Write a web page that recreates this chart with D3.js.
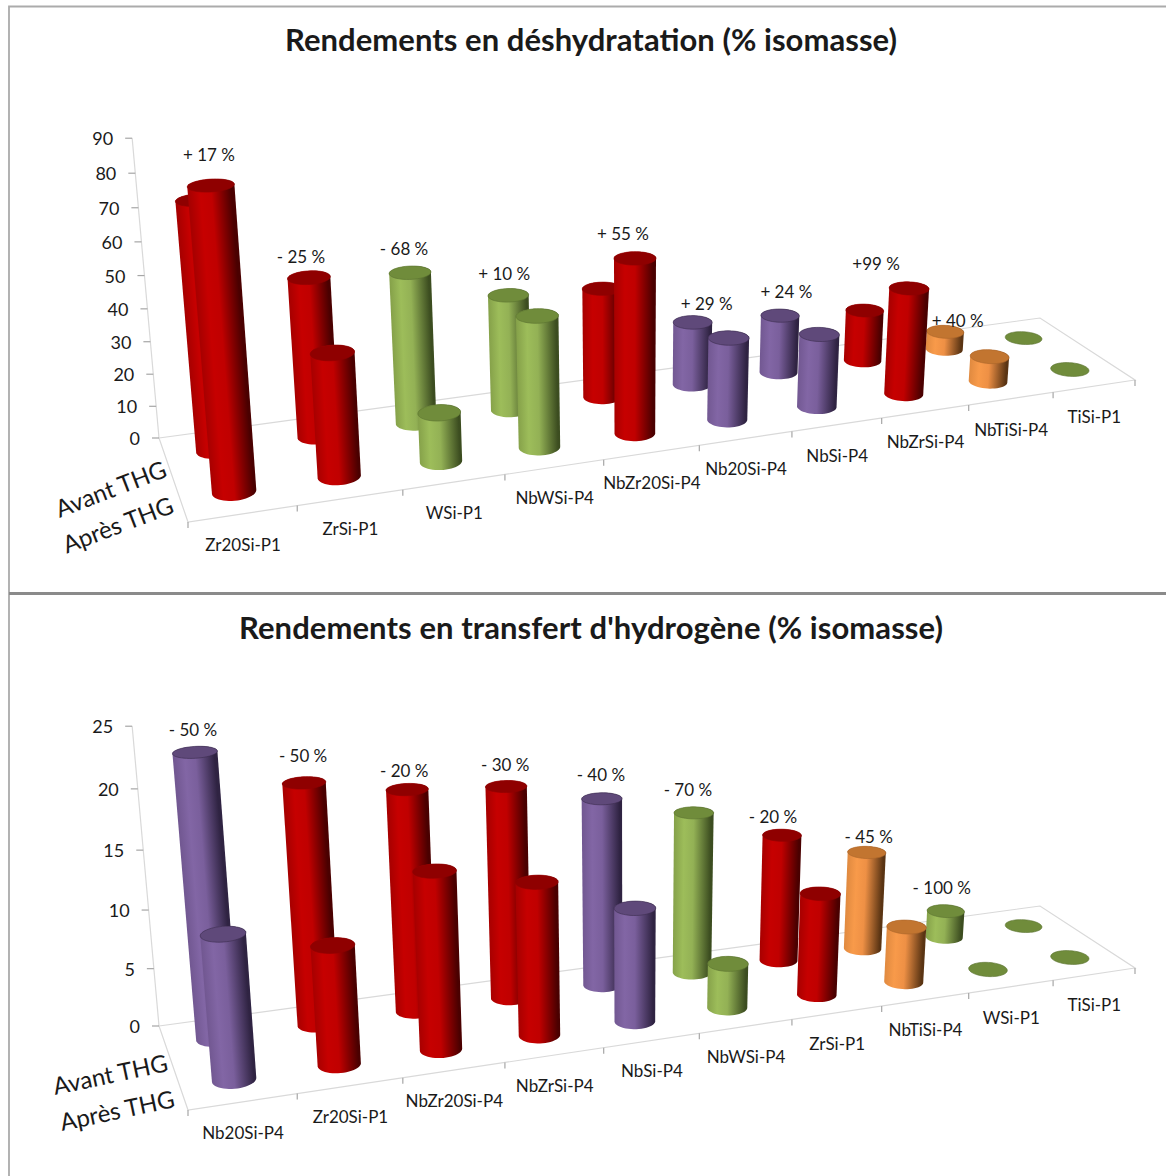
<!DOCTYPE html>
<html><head><meta charset="utf-8">
<script src="https://cdn.jsdelivr.net/npm/d3@7"></script>
<style>
html,body{margin:0;padding:0;background:#fff}
svg{display:block}
text{font-family:Lato,"Noto Sans",sans-serif;fill:#1a1a1a}
</style></head><body>
<svg id="c" width="1166" height="1176"></svg>
<script>
// ---------- data ----------
const rows = ["Avant THG", "Après THG"];

const title1 = "Rendements en déshydratation (% isomasse)";
const categories1 = ["Zr20Si-P1","ZrSi-P1","WSi-P1","NbWSi-P4","NbZr20Si-P4","Nb20Si-P4","NbSi-P4","NbZrSi-P4","NbTiSi-P4","TiSi-P1"];
const avant1 = [75, 49, 47, 36.5, 35, 20.5, 19, 17, 6, 0];
const apres1 = [87.5, 37, 15, 40.3, 54, 26, 23.3, 34.3, 8.3, 0];
const family1 = ["red","red","green","green","red","purple","purple","red","orange","green"];
const change1 = ["+ 17 %","- 25 %","- 68 %","+ 10 %","+ 55 %","+ 29 %","+ 24 %","+99 %","+ 40 %",""];
const ticks1 = [0,10,20,30,40,50,60,70,80,90];

const title2 = "Rendements en transfert d'hydrogène (% isomasse)";
const categories2 = ["Nb20Si-P4","Zr20Si-P1","NbZr20Si-P4","NbZrSi-P4","NbSi-P4","NbWSi-P4","ZrSi-P1","NbTiSi-P4","WSi-P1","TiSi-P1"];
const avant2 = [23.65, 20.4, 19, 18.4, 16.5, 14.4, 11.5, 9, 2.5, 0];
const apres2 = [11.9, 9.9, 14.9, 13, 9.8, 3.9, 9, 5, 0, 0];
const family2 = ["purple","red","red","red","purple","green","red","orange","green","green"];
const change2 = ["- 50 %","- 50 %","- 20 %","- 30 %","- 40 %","- 70 %","- 20 %","- 45 %","- 100 %",""];
const ticks2 = [0,5,10,15,20,25];

// ---------- styling ----------
const palette = {
  red:    {stops:["#a80000","#c60000","#c00000","#4a0000"], top:"#8f0000", edge:"#8f0000"},
  green:  {stops:["#86a24a","#9dbd5a","#93b155","#3c4d20"], top:"#708c3b", edge:"#5b7230"},
  purple: {stops:["#725892","#8266a5","#7a5f9c","#2f2342"], top:"#5f497a", edge:"#3a2b4e"},
  orange: {stops:["#e08a40","#f89a4a","#ee9045","#5a3413"], top:"#c27530", edge:"#a9652a"}
};
const gridColor = "#d9d9d9", tickColor = "#a6a6a6";

// floor corners of the plot box (back-left, back-right, front-right, front-left)
const floor = [[159,438],[1040,318],[1135,380],[188,522]];
const vanish = [630,5700], lift = -0.0539;
const ru = 0.0205, rv = 0.1;

function homography(p){
  const [[x0,y0],[x1,y1],[x2,y2],[x3,y3]] = p;
  const dx1=x1-x2, dx2=x3-x2, sx=x0-x1+x2-x3, dy1=y1-y2, dy2=y3-y2, sy=y0-y1+y2-y3;
  const den=dx1*dy2-dx2*dy1;
  const g=(sx*dy2-dx2*sy)/den, h=(dx1*sy-sx*dy1)/den;
  return {a:x1-x0+g*x1,b:x3-x0+h*x3,c:x0,d:y1-y0+g*y1,e:y3-y0+h*y3,f:y0,g,h};
}
const H = homography(floor);
function project(u,v,t){
  const w = H.g*u+H.h*v+1+lift*t;
  return [(H.a*u+H.b*v+H.c+lift*t*vanish[0])/w,(H.d*u+H.e*v+H.f+lift*t*vanish[1])/w];
}

const svg = d3.select("#c");
const defs = svg.append("defs");
let gid = 0;

function panel(cfg){
  const g = svg.append("g").attr("transform",`translate(0,${cfg.dy})`);
  const x = d3.scaleBand().domain(cfg.categories).range([0,1]);
  const z = d3.scalePoint().domain(rows).range([0,1]).padding(0.5);
  const y = d3.scaleLinear().domain(d3.extent(cfg.ticks)).range([0,1]);
  const line = d3.line();

  g.append("text").attr("x",cfg.titleX).attr("y",cfg.titleY).attr("text-anchor","middle")
    .style("font-size","31px").style("font-weight",700).attr("textLength",cfg.titleW).text(cfg.title);

  // floor outline
  g.append("path").attr("d",line(floor)+"Z").attr("fill","none").attr("stroke",gridColor).attr("stroke-width",1.2);
  // vertical axis
  g.append("path").attr("d",line([project(0,0,0),project(0,0,1)])).attr("fill","none").attr("stroke",gridColor).attr("stroke-width",1.2);
  cfg.ticks.forEach(t=>{
    const p = project(0,0,y(t));
    g.append("path").attr("d",line([[p[0]-7,p[1]],p])).attr("stroke",tickColor).attr("stroke-width",1.2);
    g.append("text").attr("x",p[0]-19).attr("y",p[1]+7).attr("text-anchor","end").style("font-size","18px").text(t);
  });
  // category ticks and labels
  d3.range(cfg.categories.length+1).forEach(i=>{
    const p = project(i/cfg.categories.length,1,0);
    g.append("path").attr("d",line([p,[p[0],p[1]+6]])).attr("stroke",tickColor).attr("stroke-width",1.2);
  });
  cfg.categories.forEach(c=>{
    const p = project(x(c)+x.bandwidth()/2,1,0);
    g.append("text").attr("x",p[0]).attr("y",p[1]+37).attr("text-anchor","middle").style("font-size","17px").text(c);
  });
  // depth labels
  rows.forEach((r,i)=>{
    const o = cfg.rowLabels[i];
    g.append("text").attr("transform",`translate(${o[0]},${o[1]}) rotate(${o[2]})`).attr("text-anchor","middle")
      .style("font-size","24px").text(r);
  });

  // cylinders: back row first
  rows.forEach((r,ri)=>{
    const vals = ri===0?cfg.avant:cfg.apres;
    cfg.categories.forEach((c,i)=>{
      cylinder(g,x(c)+x.bandwidth()/2,z(r),y(vals[i]),palette[cfg.family[i]]);
    });
  });
  // change labels
  cfg.categories.forEach((c,i)=>{
    if(!cfg.change[i]) return;
    const front = cfg.apres[i]>=cfg.avant[i];
    const h = Math.max(cfg.avant[i],cfg.apres[i]);
    const p = project(x(c)+x.bandwidth()/2,z(rows[front?1:0]),y(h));
    const n = cfg.nudge[i];
    g.append("text").attr("x",p[0]+n[0]).attr("y",p[1]-25+n[1]).attr("text-anchor","middle").style("font-size","17px").text(cfg.change[i]);
  });
}

function cylinder(g,uc,vc,t,pal){
  const circle = tt=>d3.range(48).map(k=>{
    const a=k/48*2*Math.PI;
    return project(uc+ru*Math.cos(a),vc+rv*Math.sin(a),tt);
  });
  const top = circle(t);
  const topPath = d3.line().curve(d3.curveLinearClosed)(top);
  if(t>0){
    const base = circle(0);
    const hull = d3.polygonHull(base.concat(top));
    const pb=project(uc,vc,0), pt=project(uc,vc,t);
    const dx=pt[0]-pb[0], dy=pt[1]-pb[1], L=Math.hypot(dx,dy);
    const nx=-dy/L, ny=dx/L;
    const r=(d3.max(base,p=>p[0])-d3.min(base,p=>p[0]))/2;
    const sg=nx>=0?1:-1;
    const id="g"+(gid++);
    const grad=defs.append("linearGradient").attr("id",id).attr("gradientUnits","userSpaceOnUse")
      .attr("x1",pb[0]-nx*r*sg).attr("y1",pb[1]-ny*r*sg)
      .attr("x2",pb[0]+nx*r*sg).attr("y2",pb[1]+ny*r*sg);
    [0,0.25,0.5,0.95].forEach((o,j)=>grad.append("stop").attr("offset",o).attr("stop-color",pal.stops[j]));
    g.append("path").attr("d",d3.line().curve(d3.curveLinearClosed)(hull)).attr("fill",`url(#${id})`);
  }
  g.append("path").attr("d",topPath).attr("fill",pal.top).attr("stroke",pal.edge).attr("stroke-width",0.6);
}

// frames
svg.append("path").attr("d","M1166,6.5H9V1176").attr("fill","none").attr("stroke","#ababab").attr("stroke-width",1.8);
svg.append("rect").attr("x",9).attr("y",592).attr("width",1157).attr("height",3).attr("fill","#8a8a8a");

panel({dy:0,title:title1,titleX:591,titleY:51,titleW:612,categories:categories1,avant:avant1,apres:apres1,family:family1,change:change1,ticks:ticks1,
  rowLabels:[[114,497,-21],[121,533,-21]],
  nudge:[[-2,1],[-8,10],[-6,7],[-33,-11],[-12,7],[-22,-3],[-33,-11],[-33,7],[-32,-5],[0,0]]});
panel({dy:588,title:title2,titleX:591,titleY:51,titleW:704,categories:categories2,avant:avant2,apres:apres2,family:family2,change:change2,ticks:ticks2,
  rowLabels:[[112,495,-12],[119,531,-12]],
  nudge:[[-2,9],[-1,4],[-3,12],[-1,10],[-1,7],[-6,8],[-9,13],[2,16],[-4,8],[0,0]]});
</script>
</body></html>
